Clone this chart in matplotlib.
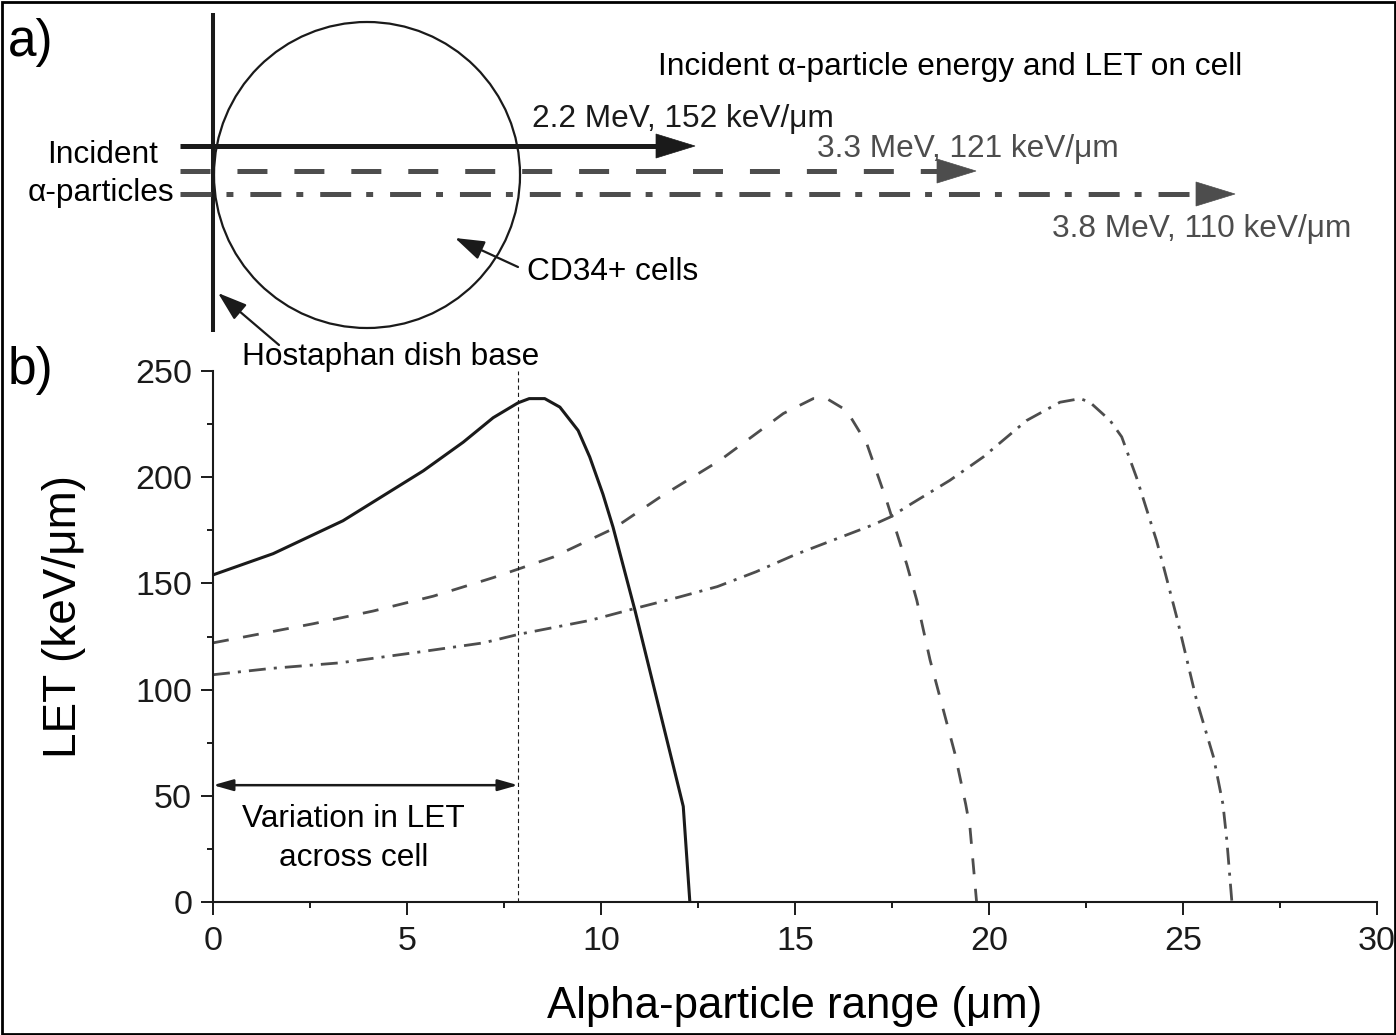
import matplotlib.pyplot as plt
from matplotlib.patches import Circle, Polygon, Rectangle

plt.rcParams['font.family'] = ['Liberation Sans', 'DejaVu Sans']
plt.rcParams['lines.scale_dashes'] = False

# ---- data ----
range_22 = [0, 1.55, 3.35, 5.42, 6.45, 7.22, 7.86, 8.15, 8.55, 8.94, 9.41, 9.71,
            10.05, 10.31, 10.88, 12.04, 12.12, 12.29]
let_22 = [154, 164, 179.5, 203, 216.5, 228, 235, 237, 237, 233, 222, 209.5,
          192, 176.5, 137, 51, 45, 0]

range_33 = [0, 2.58, 4.13, 5.68, 7.22, 8.77, 10.32, 11.52, 13.07, 14.7, 15.47, 15.82,
            16.33, 16.85, 17.36, 17.88, 18.14, 18.48, 19.12, 19.4, 19.51, 19.68]
let_33 = [122, 131, 137, 144, 152.7, 162.4, 175.8, 190.6, 208, 230, 237, 237,
          231.4, 215.8, 189, 159, 142, 114, 70, 46, 35, 0]

range_38 = [0, 1.51, 3.27, 5.16, 6.97, 7.87, 9.72, 10.83, 12.0, 13.0, 14.0, 15.0,
            16.0, 17.0, 17.45, 18.0, 18.99, 19.85, 20.97, 21.83, 22.35, 22.6, 23.12,
            23.42, 23.8, 24.32, 24.49, 24.84, 25.35, 25.79, 26.03, 26.13, 26.26]
let_38 = [107, 110, 112.6, 117.3, 122, 126, 132.6, 138, 143.5, 148.5, 155.5, 163.5,
          170.5, 177.5, 181.2, 187.5, 198.5, 209.5, 226.7, 235.3, 237, 235.3, 226.7,
          219, 200, 170, 158.5, 134, 95, 68, 46, 29, 0]

cell_edge = 7.86      # um, cell diameter
var_arrow_let = 55    # height of the "variation" arrow

beam_labels = ["2.2 MeV, 152 keV/\u03bcm", "3.3 MeV, 121 keV/\u03bcm", "3.8 MeV, 110 keV/\u03bcm"]

dark = '#1a1a1a'
grey = '#4d4d4d'

fig = plt.figure(figsize=(13.96, 10.35), dpi=100)

# ---- panel a: schematic in pixel coordinates ----
sk = fig.add_axes([0, 0, 1, 1])
sk.set_xlim(0, 1396)
sk.set_ylim(1035, 0)
sk.axis('off')

sk.add_patch(Rectangle((1.5, 1.5), 1393, 1032, fill=False, lw=2, ec='black'))
sk.add_patch(Circle((367, 175), 153, fill=False, lw=1.6, ec=dark))
sk.plot([213, 213], [13, 332], color=dark, lw=2.9, solid_capstyle='butt')

beams = [
    (146, 695, dark, '-'),
    (171, 976, grey, (0, (21.6, 19.4))),
    (194, 1235, grey, (0, (22.3, 10.8, 5, 12.2))),
]
for y, tip, col, ls in beams:
    sk.plot([180, tip - 38], [y, y], color=col, lw=3.6, ls=ls,
            solid_capstyle='butt', dash_capstyle='butt')
    sk.add_patch(Polygon([(tip - 39, y - 12), (tip, y), (tip - 39, y + 12)],
                         closed=True, fc=col, ec=col, lw=0.5))

fs = 22.8
sk.text(8, 56, "a)", fontsize=37, va='baseline', color='black')
sk.text(8, 384, "b)", fontsize=37, va='baseline', color='black')
sk.text(658, 75, "Incident \u03b1-particle energy and LET on cell", fontsize=fs,
        va='baseline', color='black')
sk.text(532, 127, beam_labels[0], fontsize=fs, va='baseline', color=dark)
sk.text(817, 157, beam_labels[1], fontsize=fs, va='baseline', color=grey)
sk.text(1052, 237, beam_labels[2], fontsize=fs, va='baseline', color=grey)
sk.text(158, 163, "Incident", fontsize=fs, ha='right', va='baseline', color='black')
sk.text(174, 201, "\u03b1-particles", fontsize=fs, ha='right', va='baseline', color='black')
sk.text(527, 280, "CD34+ cells", fontsize=fs, va='baseline', color='black')
sk.text(242, 365, "Hostaphan dish base", fontsize=fs, va='baseline', color='black')

arw = dict(arrowstyle='-|>,head_length=0.9,head_width=0.3', color=dark, lw=1.6,
           shrinkA=0, shrinkB=0, mutation_scale=20)
sk.annotate('', xy=(455, 238), xytext=(518, 267), arrowprops=arw)
sk.annotate('', xy=(218, 293), xytext=(279, 345), arrowprops=arw)

# ---- panel b: LET vs range ----
ax = fig.add_axes([213 / 1396, 133 / 1035, 1164 / 1396, 531 / 1035])
ax.patch.set_alpha(0)

ax.plot(range_22, let_22, color=dark, lw=2.2, solid_joinstyle='round')
ax.plot(range_33, let_33, color=grey, lw=2.0, ls=(0, (11.5, 10.5)))
ax.plot(range_38, let_38, color=grey, lw=2.0, ls=(0, (12.2, 5.8, 2.2, 5.8)))

ax.plot([cell_edge, cell_edge], [0, 250], color=dark, lw=0.8, ls=(0, (3, 2.2)))
ax.annotate('', xy=(0, var_arrow_let), xytext=(cell_edge, var_arrow_let),
            arrowprops=dict(arrowstyle='<|-|>,head_length=0.6,head_width=0.17',
                            color=dark, lw=1.8, shrinkA=0, shrinkB=0,
                            mutation_scale=20))
ax.text(3.63, 35.4, "Variation in LET", fontsize=fs, ha='center', va='baseline')
ax.text(3.63, 17, "across cell", fontsize=fs, ha='center', va='baseline')

ax.set_xlim(0, 30)
ax.set_ylim(0, 250)
ax.set_xticks(range(0, 31, 5))
ax.set_xticks([2.5 + 5 * i for i in range(6)], minor=True)
ax.set_yticks(range(0, 251, 50))
ax.set_yticks([25 + 50 * i for i in range(5)], minor=True)

for side in ['top', 'right']:
    ax.spines[side].set_visible(False)
for side in ['left', 'bottom']:
    ax.spines[side].set_linewidth(1.5)
    ax.spines[side].set_color(dark)

ax.tick_params(which='major', direction='out', length=9, width=1.4, labelsize=24.5,
               colors=dark)
ax.tick_params(which='minor', direction='out', length=4.5, width=1.4, colors=dark)
ax.tick_params(axis='x', which='major', pad=8)
ax.tick_params(axis='y', which='major', pad=6)

ax.set_xlabel("Alpha-particle range (\u03bcm)", fontsize=31.5)
ax.set_ylabel("LET (keV/\u03bcm)", fontsize=33)
ax.xaxis.set_label_coords(0.5, -0.158)
ax.yaxis.set_label_coords(-0.109, 0.537)

fig.savefig('out.png', dpi=100)
